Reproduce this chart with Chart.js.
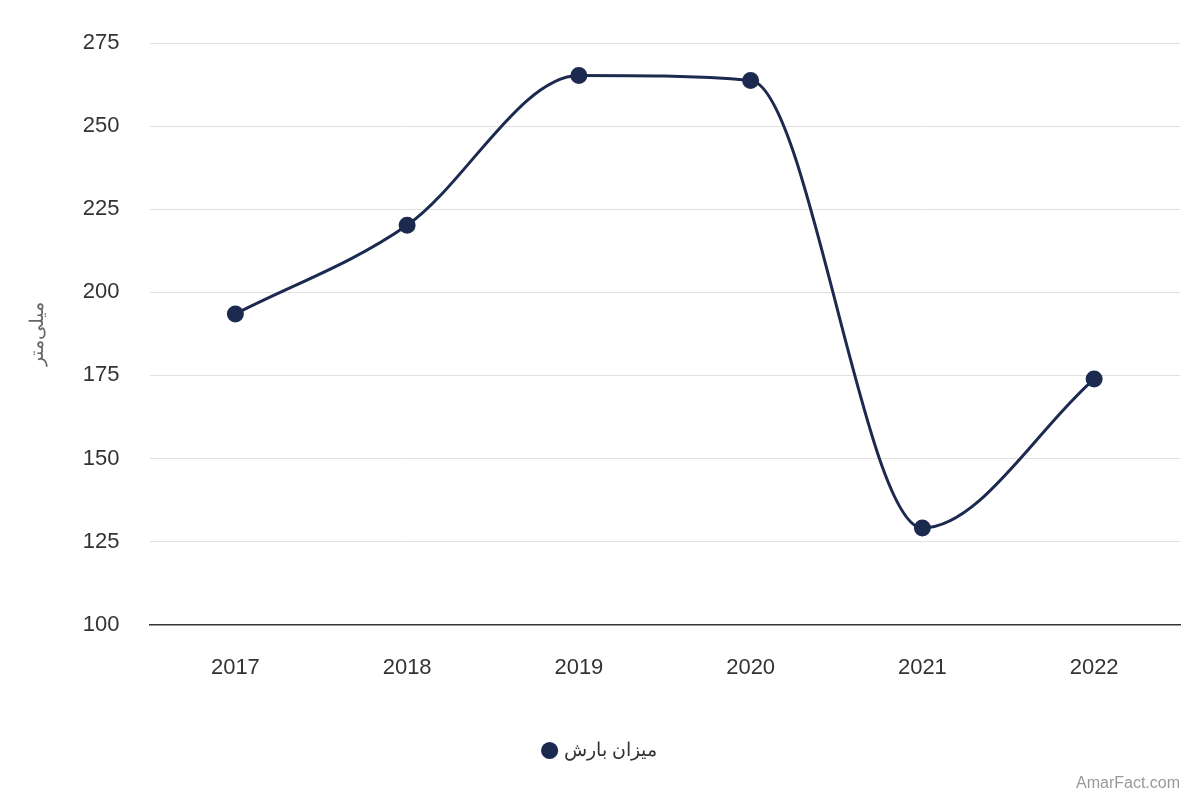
<!DOCTYPE html>
<html><head><meta charset="utf-8">
<script src="https://cdn.jsdelivr.net/npm/chart.js@4/dist/chart.umd.min.js"></script>
<style>html,body{margin:0;padding:0;background:#fff;}#w{position:relative;width:1200px;height:800px;}
#credit{position:absolute;right:20px;bottom:8px;font:16px "Liberation Sans",Arial,sans-serif;color:#999;}</style>
</head><body><div id="w"><canvas id="c" width="1200" height="800"></canvas><div id="credit">AmarFact.com</div></div>
<script>
const categories = ["2017","2018","2019","2020","2021","2022"];
const values = [193.5, 220.2, 265.3, 263.8, 129.1, 173.9];
const seriesName = "میزان بارش";
const yTitle = "میلی‌متر";
const col = "#1b2a4e";
new Chart(document.getElementById('c'), {
  type: 'line',
  data: { labels: categories, datasets: [{ label: seriesName, data: values, borderColor: col, backgroundColor: col,
    borderWidth: 3, pointRadius: 7, pointHoverRadius: 7, tension: 0.4, cubicInterpolationMode: 'monotone' }] },
  options: {
    responsive: false, animation: false,
    layout: { padding: { left: 22, right: 20, top: 0, bottom: 30 } },
    plugins: {
      legend: { position: 'bottom', labels: { usePointStyle: true, pointStyle: 'circle', boxWidth: 10, boxHeight: 10,
        font: { family: 'Liberation Sans', size: 19 }, color: '#333', padding: 30 } },
      tooltip: { enabled: false }
    },
    scales: {
      x: { offset: true, grid: { display: false, drawTicks: false }, border: { color: '#333', width: 1.5 },
        ticks: { font: { family: 'Liberation Sans', size: 22 }, color: '#333', padding: 30 } },
      y: { min: 100, max: 275, ticks: { stepSize: 25, font: { family: 'Liberation Sans', size: 22 }, color: '#333', padding: 30 },
        grid: { color: '#e0e0e0', drawTicks: false }, border: { display: false },
        title: { display: true, text: yTitle, font: { family: 'Liberation Sans', size: 19 }, color: '#666' } }
    }
  }
});
</script></body></html>
